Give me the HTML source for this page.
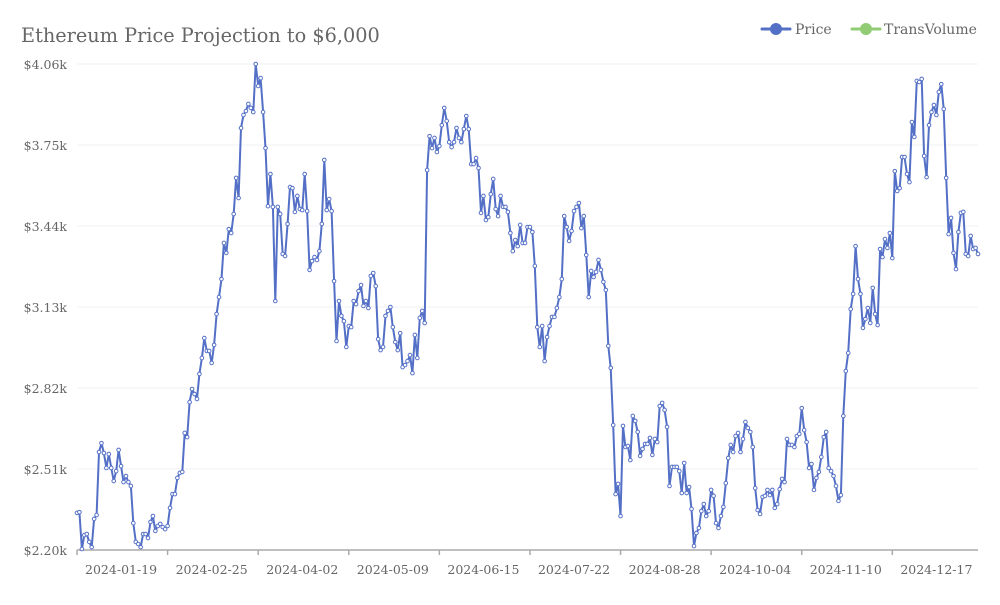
<!DOCTYPE html>
<html><head><meta charset="utf-8"><style>
html,body{margin:0;padding:0;background:#fff;}
svg text{font-family:"DejaVu Serif","Liberation Serif",serif;}
</style></head><body>
<svg id="chart" width="1000" height="600" xmlns="http://www.w3.org/2000/svg">
<text x="21" y="42" font-size="19.3" fill="#666">Ethereum Price Projection to $6,000</text>
<g>
 <g>
  <line x1="762" y1="29" x2="790" y2="29" stroke="#5470c6" stroke-width="3" stroke-linecap="round"/>
  <circle cx="776" cy="29" r="6" fill="#5470c6"/>
  <text x="795" y="34" font-size="14" fill="#666">Price</text>
 </g>
 <g>
  <line x1="852" y1="29" x2="880" y2="29" stroke="#91cc75" stroke-width="3" stroke-linecap="round"/>
  <circle cx="866" cy="29" r="6" fill="#91cc75"/>
  <text x="884" y="34" font-size="14" fill="#666">TransVolume</text>
 </g>
</g>
<g id="grid"></g>
<g id="yaxis"></g>
<g id="xaxis"></g>
<g id="series"></g>
</svg>
<script>
const yTicks=[2200,2510,2820,3130,3440,3750,4060];
const yTickLabels=["$2.20k","$2.51k","$2.82k","$3.13k","$3.44k","$3.75k","$4.06k"];
const startDate="2024-01-01";
const labelStart=18, labelStep=37;
const prices=[
2342,2345,2204,2257,2261,2231,2211,2319,2334,2575,2609,2571,2514,2567,2514,2464,2502,2583,2521,2460,2483,2460,2445,2303,2231,2223,2211,2261,2261,2246,2307,2330,2273,2292,2300,2288,2280,2292,2361,2414,2414,2476,2495,2499,2648,2632,2766,2816,2797,2778,2874,2935,3011,2962,2962,2916,2985,3103,3168,3237,
3375,3337,3428,3413,3486,3624,3547,3815,3865,3880,3907,3892,3876,4060,3976,4006,3876,3738,3516,3639,3513,3153,3513,3486,3333,3325,3448,3589,3585,3494,3555,3505,3501,3639,3497,3272,3306,3321,3310,3344,3448,3693,3501,3543,3497,3229,3000,3153,3096,3076,2977,3057,3053,3153,3141,3191,3214,3134,3153,3126,3249,3260,3210,3007,2965,2977,
3096,3115,3130,3053,2996,2965,3030,2900,2908,2923,2946,2877,3023,2935,3088,3115,3069,3654,3784,3738,3777,3723,3746,3826,3892,3842,3761,3742,3761,3815,3777,3761,3811,3861,3811,3677,3677,3700,3662,3490,3555,3463,3474,3562,3620,3505,3478,3555,3513,3513,3494,3413,3344,3386,3363,3444,3375,3375,3436,3436,3417,3287,
3053,2977,3057,2923,3015,3057,3092,3092,3126,3168,3237,3478,3436,3383,3421,3497,3513,3528,3432,3478,3329,3168,3268,3245,3264,3310,3272,3226,3195,2981,2897,2678,2414,2453,2330,2675,2594,2598,2544,2713,2694,2652,2560,2587,2606,2606,2629,2564,2625,2613,2751,2763,2736,2671,2445,2518,2518,2518,2502,2418,
2533,2418,2441,2357,2215,2265,2284,2349,2376,2330,2349,2430,2407,2303,2284,2330,2365,2456,2552,2602,2575,2636,2648,2575,2625,2690,2667,2652,2594,2437,2353,2338,2403,2407,2430,2410,2430,2361,2376,2433,2472,2460,2625,2602,2602,2594,2636,2644,2743,2659,2613,2514,2529,2430,2476,2499,2556,2632,2652,2514,2502,
2483,2445,2388,2410,2713,2885,2954,3122,3180,3363,3237,3180,3050,3084,3126,3069,3203,3103,3061,3352,3321,3390,3356,3413,3317,3650,3574,3585,3704,3704,3639,3608,3838,3781,3995,3991,4003,3708,3627,3826,3876,3903,3865,3953,3983,3888,3624,3409,3471,3337,3275,3417,3490,3494,3333,3325,3402,3352,3356,3333
];
const NS="http://www.w3.org/2000/svg";
const X0=77,X1=978,Y0=550,Y1=64;
const n=prices.length;
function xs(i){return X0+i*(X1-X0)/(n-1);}
function ys(v){return Y0-(v-yTicks[0])/(yTicks[yTicks.length-1]-yTicks[0])*(Y0-Y1);}
function mk(tag,attrs,parent){const e=document.createElementNS(NS,tag);for(const k in attrs)e.setAttribute(k,attrs[k]);parent.appendChild(e);return e;}
const grid=document.getElementById('grid'),ya=document.getElementById('yaxis'),xa=document.getElementById('xaxis'),se=document.getElementById('series');
yTicks.forEach((t,i)=>{
 if(i>0){const g=mk('line',{x1:X0,x2:X1,y1:ys(t),y2:ys(t),stroke:'#eef0f3','stroke-width':1},grid);
 
 }
 const tx=mk('text',{x:67,y:ys(t)+5,'font-size':12.5,fill:'#666','text-anchor':'end'},ya);
 tx.textContent=yTickLabels[i];
 
 
});
const ax=mk('line',{x1:X0,x2:X1,y1:Y0,y2:Y0,stroke:'#aaa','stroke-width':1.5},xa);


for(let i=0;i<n;i+=labelStep){
 const tk=mk('line',{x1:xs(i),x2:xs(i),y1:Y0,y2:Y0+5,stroke:'#aaa','stroke-width':1.5},xa);
 
 
}
const sd=new Date(startDate+"T00:00:00Z");
for(let i=labelStart;i<n;i+=labelStep){
 const d=new Date(sd.getTime()+i*86400000);
 const s=d.toISOString().slice(0,10);
 const tx=mk('text',{x:xs(i),y:574,'font-size':12.5,fill:'#666','text-anchor':'middle'},xa);
 tx.textContent=s;
 
 
}
const pts=prices.map((v,i)=>xs(i).toFixed(1)+','+ys(v).toFixed(1)).join(' ');
const pl=mk('polyline',{points:pts,fill:'none',stroke:'#5470c6','stroke-width':2,'stroke-linejoin':'round'},se);


prices.forEach((v,i)=>{
 const c=mk('circle',{cx:xs(i),cy:ys(v),r:1.8,fill:'#fff',stroke:'#5470c6','stroke-width':1},se);
 
 
});
</script>
</body></html>
